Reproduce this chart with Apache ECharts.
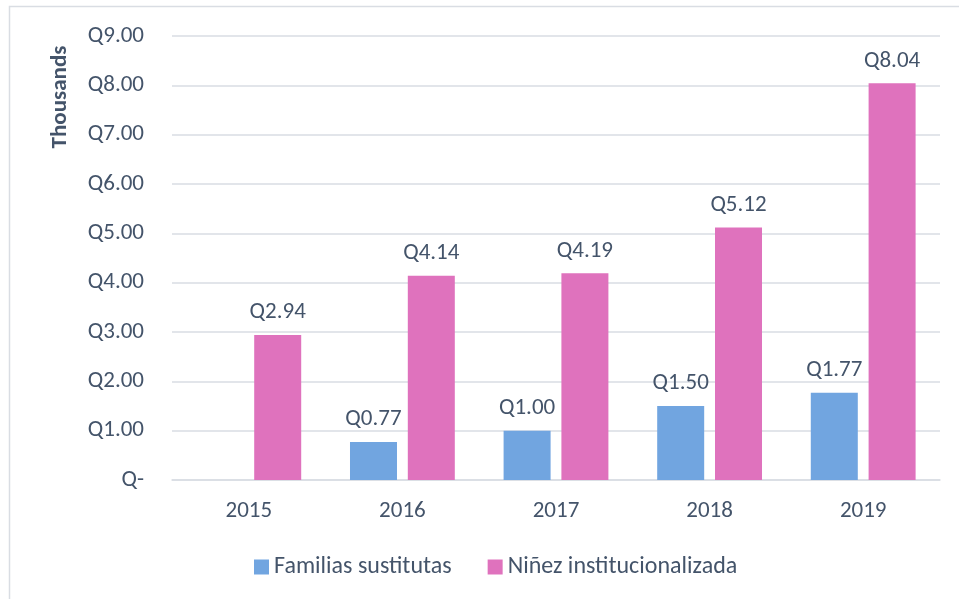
<!DOCTYPE html>
<html>
<head>
<meta charset="utf-8">
<script src="https://cdn.jsdelivr.net/npm/echarts@6/dist/echarts.min.js"></script>
<style>
  html, body { margin: 0; padding: 0; background: #fff; }
  #chart { width: 959px; height: 599px; }
</style>
</head>
<body>
<div id="chart"></div>
<script>
const years = ['2015', '2016', '2017', '2018', '2019'];
const familias = [null, 0.77, 1.00, 1.50, 1.77];
const ninez = [2.94, 4.14, 4.19, 5.12, 8.04];
const seriesNames = ['Familias sustitutas', 'Niñez institucionalizada'];

const textColor = '#44546a';
const font = 'Carlito, Lato, "Open Sans", sans-serif';
const fs = 23;

const money = v => (v === 0 ? 'Q-' : 'Q' + v.toFixed(2));

const chart = echarts.init(document.getElementById('chart'));

chart.setOption({
  backgroundColor: '#fff',
  animation: false,
  textStyle: { fontFamily: font, color: textColor },
  grid: { left: 172, right: 19, top: 36, bottom: 119 },
  graphic: [
    {
      type: 'rect',
      shape: { x: 9.5, y: 6.5, width: 1000, height: 700 },
      style: { fill: 'none', stroke: '#d9dde3', lineWidth: 1.5 },
      silent: true
    },
    {
      type: 'text',
      x: 60, y: 97,
      rotation: Math.PI / 2,
      style: {
        text: 'Thousands',
        font: 'bold 23px ' + font,
        fill: textColor,
        align: 'center',
        verticalAlign: 'middle'
      }
    }
  ],
  legend: {
    data: seriesNames,
    top: 550,
    left: 249,
    itemWidth: 15,
    itemHeight: 15,
    itemGap: 36,
    icon: 'rect',
    textStyle: { fontSize: 24, color: textColor, fontFamily: font }
  },
  xAxis: {
    type: 'category',
    data: years,
    axisLine: { show: true, lineStyle: { color: '#d9dde3', width: 1.5 } },
    axisTick: { show: false },
    axisLabel: { fontSize: fs, color: textColor, margin: 20 }
  },
  yAxis: {
    type: 'value',
    min: 0,
    max: 9,
    interval: 1,
    axisLine: { show: false },
    axisTick: { show: false },
    splitLine: { lineStyle: { color: '#d9dde3', width: 1.5 } },
    axisLabel: { fontSize: fs, color: textColor, margin: 28, formatter: money }
  },
  series: [
    {
      name: seriesNames[0],
      type: 'bar',
      data: familias,
      barWidth: 47,
      barGap: '23%',
      itemStyle: { color: '#71a5e0' },
      label: {
        show: true, position: 'top', distance: 11,
        fontSize: fs, color: textColor,
        formatter: p => money(p.value)
      }
    },
    {
      name: seriesNames[1],
      type: 'bar',
      data: ninez,
      barWidth: 47,
      barGap: '23%',
      itemStyle: { color: '#df72bd' },
      label: {
        show: true, position: 'top', distance: 11,
        fontSize: fs, color: textColor,
        formatter: p => money(p.value)
      }
    }
  ]
});
</script>
</body>
</html>
